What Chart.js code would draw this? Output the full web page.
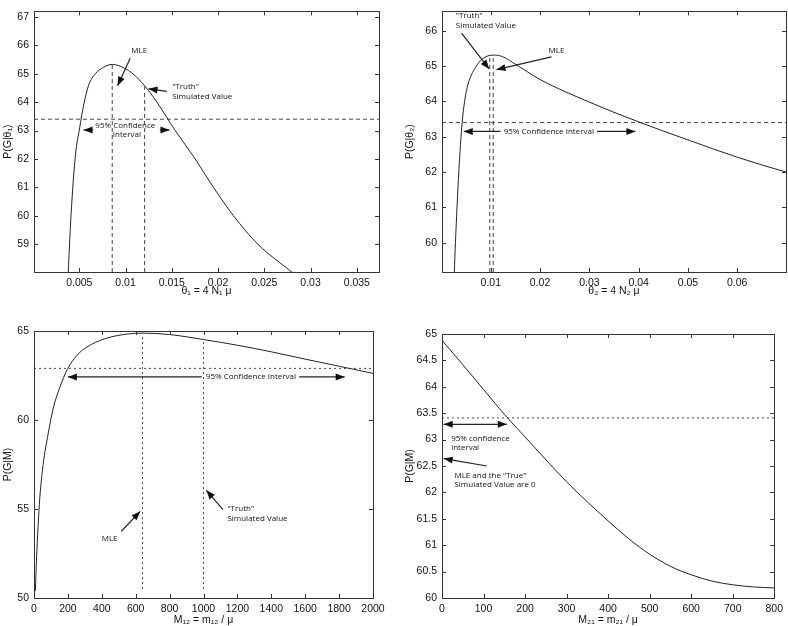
<!DOCTYPE html>
<html>
<head>
<meta charset="utf-8">
<script src="https://cdn.jsdelivr.net/npm/chart.js@4.4.1/dist/chart.umd.min.js"></script>
<style>
  html, body { margin: 0; padding: 0; background: #fff; }
  #wrap { position: relative; width: 788px; height: 626px; }
  canvas { position: absolute; }
</style>
</head>
<body>
<div id="wrap">
  <canvas id="c1" width="394" height="300" style="left:0;top:0"></canvas>
  <canvas id="c2" width="394" height="300" style="left:394px;top:0"></canvas>
  <canvas id="c3" width="394" height="326" style="left:0;top:300px"></canvas>
  <canvas id="c4" width="394" height="326" style="left:394px;top:300px"></canvas>
</div>
<script>
// theta1 likelihood profile
const theta1 = [0.0038, 0.0041, 0.00457, 0.00504, 0.00547, 0.00601, 0.00673, 0.00763, 0.00856, 0.00979, 0.01087,
  0.01206, 0.01339, 0.01537, 0.01753, 0.0195, 0.02167, 0.0243, 0.02805];
const pTheta1 = [58.0, 60.0, 62.1, 63.1, 63.9, 64.6, 65.0, 65.23, 65.33, 65.21, 64.98,
  64.58, 64.0, 63.0, 62.0, 61.0, 60.0, 59.0, 58.0];
const theta1Ticks = [0.005, 0.01, 0.015, 0.02, 0.025, 0.03, 0.035];
const p1Ticks = [59, 60, 61, 62, 63, 64, 65, 66, 67];

// theta2 likelihood profile
const theta2 = [0.0026, 0.00283, 0.00351, 0.00419, 0.00486, 0.00554, 0.00655, 0.0079, 0.00926, 0.01095, 0.01264,
  0.015, 0.02, 0.025, 0.03, 0.035, 0.04, 0.045, 0.05, 0.055, 0.06, 0.065, 0.0699];
const pTheta2 = [59.17, 60.0, 62.0, 63.4, 64.15, 64.56, 64.88, 65.15, 65.28, 65.31, 65.25,
  65.05, 64.62, 64.28, 63.98, 63.69, 63.42, 63.16, 62.91, 62.66, 62.42, 62.2, 62.0];
const theta2Ticks = [0.01, 0.02, 0.03, 0.04, 0.05, 0.06];
const p2Ticks = [60, 61, 62, 63, 64, 65, 66];

// M12 likelihood profile
const m12 = [8, 15, 24, 34, 54, 83, 112, 151, 200, 260, 340, 430, 550, 650, 800, 1000, 1200, 1400, 1600, 1800, 2000];
const pM12 = [50.4, 52.2, 54.0, 55.6, 57.5, 59.2, 60.6, 61.8, 62.9, 63.7, 64.25, 64.6, 64.83, 64.88, 64.8,
  64.52, 64.2, 63.83, 63.42, 63.02, 62.62];
const m12Ticks = [0, 200, 400, 600, 800, 1000, 1200, 1400, 1600, 1800, 2000];
const p3Ticks = [50, 55, 60, 65];

// M21 likelihood profile
const m21 = [0, 50, 100, 150, 200, 250, 300, 350, 400, 450, 500, 550, 600, 650, 700, 750, 800];
const pM21 = [64.88, 64.42, 63.95, 63.48, 63.05, 62.62, 62.2, 61.82, 61.46, 61.12, 60.83, 60.6, 60.44,
  60.32, 60.25, 60.21, 60.19];
const m21Ticks = [0, 100, 200, 300, 400, 500, 600, 700, 800];
const p4Ticks = [60, 60.5, 61, 61.5, 62, 62.5, 63, 63.5, 64, 64.5, 65];

// cut-offs and estimates
const cut1 = 63.4, mle1 = 0.00856, truth1 = 0.01206;
const cut2 = 63.4, truth2 = 0.0098, mle2 = 0.0105;
const cut3 = 62.9, mle3 = 640, truth3 = 1000;
const cut4 = 63.41;

const tickFont = { family: "'Liberation Sans', Arial, sans-serif", size: 10.5 };
const noteFont = '8px "Open Sans", sans-serif';

const zip = (xs, ys) => xs.map((x, i) => ({ x: x, y: ys[i] }));
const fmt = v => String(+v.toFixed(4));

const framePlugin = {
  id: 'frame',
  afterDatasetsDraw(chart) {
    const { ctx, chartArea: a, scales } = chart;
    ctx.save();
    ctx.strokeStyle = '#333';
    ctx.lineWidth = 1;
    ctx.strokeRect(Math.round(a.left) + 0.5, Math.round(a.top) + 0.5,
      Math.round(a.right - a.left), Math.round(a.bottom - a.top));
    ctx.beginPath();
    scales.x.ticks.forEach(t => {
      const px = Math.round(scales.x.getPixelForValue(t.value)) + 0.5;
      ctx.moveTo(px, a.bottom); ctx.lineTo(px, a.bottom - 4);
      ctx.moveTo(px, a.top); ctx.lineTo(px, a.top + 4);
    });
    scales.y.ticks.forEach(t => {
      const py = Math.round(scales.y.getPixelForValue(t.value)) + 0.5;
      ctx.moveTo(a.left, py); ctx.lineTo(a.left + 4, py);
      ctx.moveTo(a.right, py); ctx.lineTo(a.right - 4, py);
    });
    ctx.stroke();
    ctx.restore();
  }
};

function drawHead(ctx, x1, y1, x2, y2) {
  const ang = Math.atan2(y2 - y1, x2 - x1);
  const len = 9, half = 3.5;
  ctx.beginPath();
  ctx.moveTo(x2, y2);
  ctx.lineTo(x2 - len * Math.cos(ang) + half * Math.sin(ang), y2 - len * Math.sin(ang) - half * Math.cos(ang));
  ctx.lineTo(x2 - len * Math.cos(ang) - half * Math.sin(ang), y2 - len * Math.sin(ang) + half * Math.cos(ang));
  ctx.closePath();
  ctx.fill();
}

function notesPlugin(notes) {
  return {
    id: 'notes',
    afterDraw(chart) {
      const { ctx, scales } = chart;
      const X = v => scales.x.getPixelForValue(v);
      const Y = v => scales.y.getPixelForValue(v);
      ctx.save();
      ctx.fillStyle = '#111';
      ctx.strokeStyle = '#222';
      ctx.font = noteFont;
      ctx.textBaseline = 'middle';
      notes.texts.forEach(([txt, x, y, align]) => {
        ctx.textAlign = align;
        ctx.fillText(txt, X(x), Y(y));
      });
      notes.arrows.forEach(([x1, y1, x2, y2, both]) => {
        const a = X(x1), b = Y(y1), c = X(x2), d = Y(y2);
        ctx.lineWidth = 1.2;
        ctx.beginPath(); ctx.moveTo(a, b); ctx.lineTo(c, d); ctx.stroke();
        drawHead(ctx, a, b, c, d);
        if (both) drawHead(ctx, c, d, a, b);
      });
      ctx.restore();
    }
  };
}

function makePanel(id, p) {
  const guideSets = p.guides.map(g => ({
    data: g, borderColor: '#444', borderWidth: 1, borderDash: p.dash, pointRadius: 0, tension: 0
  }));
  const noGrid = { display: false, drawTicks: false, tickLength: 0 };
  return new Chart(document.getElementById(id), {
    type: 'line',
    data: {
      datasets: [{
        data: zip(p.xs, p.ys), borderColor: '#222', borderWidth: 1, pointRadius: 0,
        cubicInterpolationMode: 'monotone'
      }].concat(guideSets)
    },
    options: {
      responsive: false, animation: false, devicePixelRatio: 1,
      layout: { padding: p.pad },
      plugins: { legend: { display: false }, tooltip: { enabled: false } },
      scales: {
        x: {
          type: 'linear', min: p.xMin, max: p.xMax,
          grid: noGrid, border: { display: false },
          ticks: { font: tickFont, color: '#111', padding: 5, autoSkip: false, maxRotation: 0, callback: fmt },
          title: { display: true, text: p.xTitle, font: tickFont, color: '#111', padding: { top: 0, bottom: p.xTitlePad } },
          afterBuildTicks: s => { s.ticks = p.xTicks.map(v => ({ value: v })); },
          afterFit: s => { s.height = p.xHeight; }
        },
        y: {
          type: 'linear', min: p.yMin, max: p.yMax,
          grid: noGrid, border: { display: false },
          ticks: { font: tickFont, color: '#111', padding: 5, autoSkip: false, callback: fmt },
          title: { display: true, text: p.yTitle, font: tickFont, color: '#111', padding: { top: 0, bottom: 2 } },
          afterBuildTicks: s => { s.ticks = p.yTicks.map(v => ({ value: v })); },
          afterFit: s => { s.width = p.yWidth; }
        }
      }
    },
    plugins: [framePlugin, notesPlugin(p.notes)]
  });
}

makePanel('c1', {
  xs: theta1, ys: pTheta1, xMin: 0.0001, xMax: 0.0374, yMin: 58.02, yMax: 67.2,
  xTicks: theta1Ticks, yTicks: p1Ticks, xTitle: 'θ₁ = 4 N₁ μ', yTitle: 'P(G|θ₁)',
  pad: { left: 2, right: 15, top: 3, bottom: 0 }, xHeight: 28, yWidth: 32, xTitlePad: 3,
  dash: [4, 3],
  guides: [
    [{ x: 0.0001, y: cut1 }, { x: 0.0374, y: cut1 }],
    [{ x: mle1, y: 58.02 }, { x: mle1, y: 65.33 }],
    [{ x: truth1, y: 58.02 }, { x: truth1, y: 64.55 }]
  ],
  notes: {
    texts: [
      ['MLE', 0.01148, 65.81, 'center'],
      ['"Truth"', 0.01504, 64.53, 'left'],
      ['Simulated Value', 0.01504, 64.19, 'left'],
      ['95% Confidence', 0.00997, 63.18, 'center'],
      ['Interval', 0.01015, 62.84, 'center']
    ],
    arrows: [
      [0.0105, 65.55, 0.00914, 64.58],
      [0.01447, 64.38, 0.01248, 64.47],
      [0.0065, 63.02, 0.00546, 63.02],
      [0.0137, 63.02, 0.01475, 63.02]
    ]
  }
});

makePanel('c2', {
  xs: theta2, ys: pTheta2, xMin: 0.0001, xMax: 0.0699, yMin: 59.17, yMax: 66.55,
  xTicks: theta2Ticks, yTicks: p2Ticks, xTitle: 'θ₂ = 4 N₂ μ', yTitle: 'P(G|θ₂)',
  pad: { left: 10, right: 2, top: 2, bottom: 0 }, xHeight: 28, yWidth: 38, xTitlePad: 3,
  dash: [4, 3],
  guides: [
    [{ x: 0.0001, y: cut2 }, { x: 0.0699, y: cut2 }],
    [{ x: truth2, y: 59.17 }, { x: truth2, y: 65.24 }],
    [{ x: mle2, y: 59.17 }, { x: mle2, y: 65.3 }]
  ],
  notes: {
    texts: [
      ['"Truth"', 0.0029, 66.43, 'left'],
      ['Simulated Value', 0.0029, 66.14, 'left'],
      ['MLE', 0.02333, 65.43, 'center'],
      ['95% Confidence Interval', 0.02177, 63.15, 'center']
    ],
    arrows: [
      [0.00406, 65.93, 0.00966, 64.92],
      [0.02231, 65.26, 0.01116, 64.9],
      [0.01197, 63.15, 0.00452, 63.15],
      [0.03157, 63.15, 0.03935, 63.15]
    ]
  }
});

makePanel('c3', {
  xs: m12, ys: pM12, xMin: 0, xMax: 2000, yMin: 50, yMax: 65,
  xTicks: m12Ticks, yTicks: p3Ticks, xTitle: 'M₁₂ = m₁₂ / μ', yTitle: 'P(G|M)',
  pad: { left: 2, right: 21, top: 31, bottom: 0 }, xHeight: 28, yWidth: 32, xTitlePad: 0,
  dash: [2, 3],
  guides: [
    [{ x: 0, y: cut3 }, { x: 2000, y: cut3 }],
    [{ x: mle3, y: 50.5 }, { x: mle3, y: 64.85 }],
    [{ x: truth3, y: 50.5 }, { x: truth3, y: 64.5 }]
  ],
  notes: {
    texts: [
      ['95% Confidence Interval', 1280, 62.42, 'center'],
      ['MLE', 446, 53.32, 'center'],
      ['"Truth"', 1141, 55.0, 'left'],
      ['Simulated Value', 1141, 54.46, 'left']
    ],
    arrows: [
      [990, 62.42, 200, 62.42],
      [1565, 62.42, 1833, 62.42],
      [515, 53.75, 627, 54.87],
      [1115, 54.96, 1017, 56.05]
    ]
  }
});

makePanel('c4', {
  xs: m21, ys: pM21, xMin: 0, xMax: 800, yMin: 60, yMax: 65,
  xTicks: m21Ticks, yTicks: p4Ticks, xTitle: 'M₂₁ = m₂₁ / μ', yTitle: 'P(G|M)',
  pad: { left: 10, right: 13, top: 34, bottom: 0 }, xHeight: 28, yWidth: 38, xTitlePad: 0,
  dash: [2, 3],
  guides: [
    [{ x: 0, y: cut4 }, { x: 800, y: cut4 }]
  ],
  notes: {
    texts: [
      ['95% confidence', 22, 63.02, 'left'],
      ['interval', 22, 62.85, 'left'],
      ['MLE and the "True"', 30, 62.32, 'left'],
      ['Simulated Value are 0', 30, 62.14, 'left']
    ],
    arrows: [
      [4, 63.29, 156, 63.29, true],
      [108, 62.5, 4, 62.64]
    ]
  }
});
</script>
</body>
</html>
